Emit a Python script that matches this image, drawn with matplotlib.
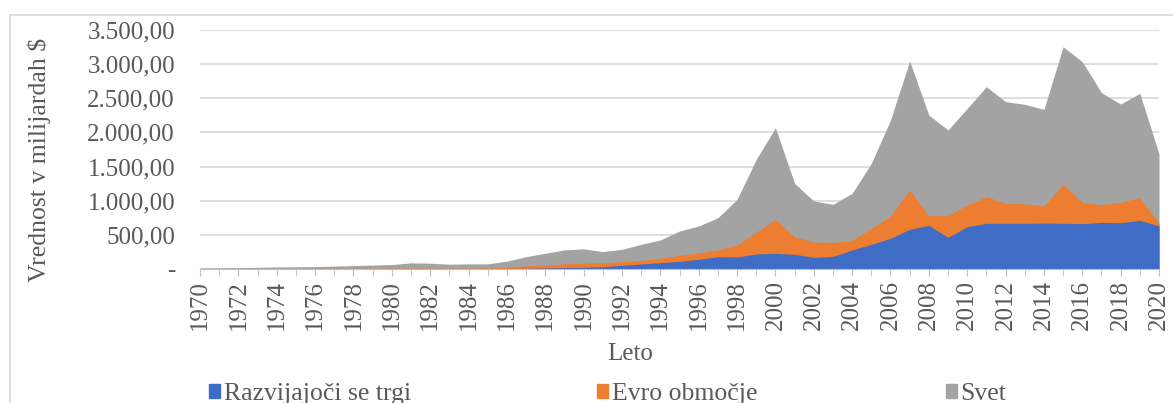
import matplotlib.pyplot as plt
import numpy as np
from matplotlib.patches import Rectangle
from matplotlib.ticker import FuncFormatter, MultipleLocator

plt.rcParams["font.family"] = ["Liberation Serif", "DejaVu Serif"]

years = np.arange(1970, 2021)

# Svet (world)
svet = [
    15, 17, 20, 25, 30, 32, 35, 42, 50, 58,
    65, 90, 85, 70, 75, 75, 115, 180, 230, 280,
    295, 255, 288, 361, 425, 556, 630, 751, 1020, 1605,
    2069, 1254, 995, 947, 1108, 1547, 2181, 3045, 2254, 2035,
    2352, 2669, 2450, 2411, 2338, 3255, 3035, 2582, 2416, 2572,
    1684,
]
# Evro obmocje
evro = [
    3, 4, 5, 6, 7, 8, 9, 10, 11, 12,
    13, 15, 14, 13, 14, 15, 25, 45, 60, 75,
    85, 90, 107, 127, 156, 200, 234, 278, 351, 537,
    727, 473, 395, 390, 415, 595, 776, 1157, 781, 781,
    937, 1059, 961, 956, 922, 1240, 976, 942, 976, 1044,
    669,
]
# Razvijajoci se trgi
trgi = [
    1, 1, 1, 1, 1, 1, 1, 2, 2, 2,
    3, 3, 3, 3, 4, 5, 7, 10, 15, 20,
    25, 34, 54, 73, 93, 112, 142, 180, 176, 220,
    229, 215, 171, 185, 278, 361, 449, 581, 639, 464,
    620, 669, 669, 669, 673, 669, 664, 683, 678, 712,
    634,
]
labels = ["Razvijajoči se trgi", "Evro območje", "Svet"]

c_grey = "#A3A3A3"
c_orange = "#ED7D31"
c_blue = "#3F6CC4"
txt = "#595959"

fig = plt.figure(figsize=(11.73, 4.03), dpi=100)
fig.patches.append(Rectangle((10 / 1173, -0.1), 1.2, 1 - 15 / 403 + 0.1,
                             transform=fig.transFigure, fill=False,
                             edgecolor="#D9D9D9", linewidth=1.2))
ax = fig.add_axes([200 / 1173, 1 - 269 / 403, 959 / 1173, 239 / 403])

ax.fill_between(years, 0, svet, color=c_grey, linewidth=0, zorder=2)
ax.fill_between(years, 0, evro, color=c_orange, linewidth=0, zorder=3)
ax.fill_between(years, 0, trgi, color=c_blue, linewidth=0, zorder=4)

ax.set_xlim(1970, 2020)
ax.set_ylim(0, 3500)
ax.yaxis.set_major_locator(MultipleLocator(500))
ax.yaxis.set_major_formatter(FuncFormatter(
    lambda v, p: "-" if v == 0 else f"{v:,.2f}".replace(",", " ").replace(".", ",").replace(" ", ".")))
ax.set_xticks(years[::2])
ax.set_xticks(years, minor=True)
ax.tick_params(axis="x", which="both", direction="out", length=5, color="#BFBFBF",
               labelrotation=90, labelsize=18, labelcolor=txt, pad=3)
ax.tick_params(axis="y", length=0, labelsize=18, labelcolor=txt, pad=18)

ax.grid(axis="y", color="#D9D9D9", linewidth=1.2, zorder=0)
for s in ["top", "right", "left"]:
    ax.spines[s].set_visible(False)
ax.spines["bottom"].set_color("#BFBFBF")
ax.spines["bottom"].set_zorder(5)

fig.text(39 / 1173, 1 - 160 / 403, "Vrednost v milijardah $", fontsize=18.5, color=txt,
         rotation=90, ha="center", va="center")
fig.text(630 / 1173, 1 - 354 / 403, "Leto", fontsize=18, color=txt, ha="center", va="center")

for lab, col, x0 in zip(labels, (c_blue, c_orange, c_grey), (209, 597, 946)):
    fig.legend([Rectangle((0, 0), 1, 1, color=col)], [lab],
               loc="center left", bbox_to_anchor=(x0 / 1173, 1 - 394 / 403),
               frameon=False, fontsize=18.5, labelcolor=txt, handlelength=0.42,
               handleheight=0.5, handletextpad=0.15, borderpad=0, borderaxespad=0)

fig.savefig("out.png", dpi=100, facecolor="white")
